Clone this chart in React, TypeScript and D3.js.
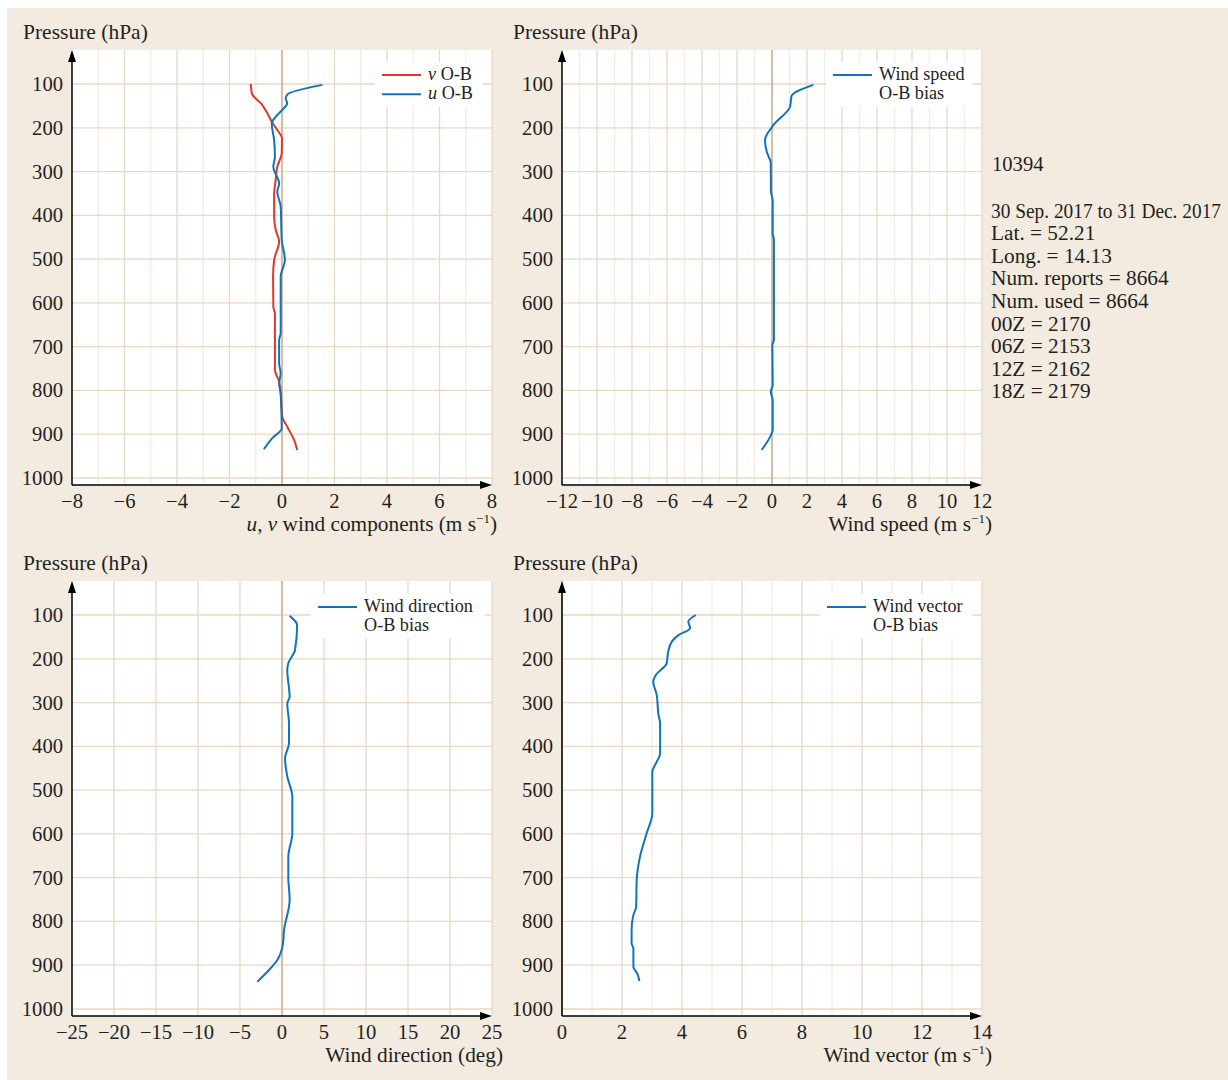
import React from 'react';
import * as d3 from 'd3';

// pressure levels (hPa) and O-B values
const vOB: [number, number][] = [
  [100, -1.19], [121, -1.15], [148, -0.75], [167, -0.56], [186, -0.39], [205, -0.18],
  [224, 0.0], [258, -0.01], [289, -0.18], [319, -0.24], [350, -0.3], [403, -0.3],
  [433, -0.24], [460, -0.11], [502, -0.3], [540, -0.34], [609, -0.33], [624, -0.27],
  [753, -0.27], [780, -0.11], [806, -0.05], [860, 0.01], [883, 0.2], [913, 0.46], [936, 0.58],
];
const uOB: [number, number][] = [
  [102, 1.54], [124, 0.2], [133, 0.14], [144, 0.2], [159, 0.01], [175, -0.24], [190, -0.39],
  [228, -0.3], [266, -0.27], [289, -0.33], [327, -0.11], [346, -0.18], [380, -0.05],
  [456, -0.01], [502, 0.11], [540, -0.05], [669, -0.05], [685, -0.11], [738, -0.11],
  [761, -0.05], [784, -0.11], [806, -0.05], [887, -0.01], [909, -0.37], [934, -0.69],
];
const speedOB: [number, number][] = [
  [102, 2.36], [127, 1.12], [152, 1.03], [194, 0.08], [228, -0.4], [255, -0.3], [281, -0.07],
  [346, -0.06], [365, 0.04], [441, 0.04], [456, 0.11], [685, 0.11], [696, 0.02], [788, 0.04],
  [803, -0.07], [822, 0.04], [890, 0.04], [909, -0.15], [936, -0.59],
];
const dirOB: [number, number][] = [
  [102, 0.91], [123, 1.8], [180, 1.55], [210, 0.75], [226, 0.63], [287, 0.91], [302, 0.63],
  [348, 0.83], [393, 0.83], [427, 0.36], [469, 0.63], [515, 1.23], [599, 1.23], [652, 0.75],
  [698, 0.75], [751, 0.91], [820, 0.24], [850, 0.12], [888, -0.56], [911, -1.55], [938, -2.94],
];
const vectorOB: [number, number][] = [
  [100, 4.46], [115, 4.21], [130, 4.27], [146, 3.88], [161, 3.66], [184, 3.54], [210, 3.49],
  [237, 3.13], [252, 3.04], [283, 3.16], [325, 3.21], [348, 3.27], [416, 3.27], [443, 3.1],
  [458, 3.01], [553, 3.01], [599, 2.82], [652, 2.6], [706, 2.49], [767, 2.47], [785, 2.38],
  [820, 2.32], [850, 2.32], [862, 2.38], [904, 2.38], [919, 2.51], [936, 2.58],
];

const pressureTicks = [100, 200, 300, 400, 500, 600, 700, 800, 900, 1000];
const stationId = '10394';
const stationInfo = [
  '30 Sep. 2017 to 31 Dec. 2017', 'Lat. = 52.21', 'Long. = 14.13', 'Num. reports = 8664',
  'Num. used = 8664', '00Z = 2170', '06Z = 2153', '12Z = 2162', '18Z = 2179',
];

const BLUE = '#0f74ba';
const RED = '#e2362c';
const MAJOR = '#e8d8c4';
const MINOR = '#f4ebe1';
const ZERO = '#c9a27f';
const INK = '#231f20';
const FONT = '"Liberation Serif", "Times New Roman", serif';

type Series = { data: [number, number][]; color: string; label: string[]; italic?: string };

function Panel(props: {
  left: number; top: number; domain: [number, number]; ticks: number[];
  grid: number[]; minorEvery?: number; series: Series[];
  legend: { x: number; y: number; w: number; h: number };
  title: React.ReactNode; titleX: number;
}) {
  const { left, top, domain, ticks, grid, series, legend } = props;
  const W = 420, H = 435;
  const x = d3.scaleLinear().domain(domain).range([left, left + W]);
  const y = d3.scaleLinear().domain([100, 1000]).range([top + 34, top + 428]);
  const bottom = top + H;
  const line = d3.line<[number, number]>()
    .x(d => x(d[1])).y(d => y(d[0]))
    .curve(d3.curveMonotoneY);
  const fmt = (v: number) => (v < 0 ? '\u2212' + Math.abs(v) : String(v));

  return (
    <g>
      <rect x={left} y={top} width={W} height={H} fill="#fff" />
      {grid.map(g => (
        <line key={'g' + g} x1={x(g)} x2={x(g)} y1={top} y2={bottom}
          stroke={props.minorEvery && Math.abs(g % props.minorEvery) === 1 ? MINOR : MAJOR}
          strokeWidth={1.3} />
      ))}
      {pressureTicks.map(p => (
        <line key={'h' + p} x1={left} x2={left + W} y1={y(p)} y2={y(p)} stroke={MAJOR} strokeWidth={1.3} />
      ))}
      <line x1={x(0)} x2={x(0)} y1={top} y2={bottom} stroke={ZERO} strokeWidth={1.2} />
      <rect x={legend.x} y={legend.y} width={legend.w} height={legend.h} fill="#fff" />
      {series.map((s, i) => (
        <path key={'s' + i} d={line(s.data) || ''} fill="none" stroke={s.color} strokeWidth={2} />
      ))}
      {series.map((s, i) => {
        const ly = legend.y + 13 + i * 19.3;
        return (
          <g key={'l' + i}>
            <line x1={legend.x + 7} x2={legend.x + 46} y1={ly} y2={ly} stroke={s.color} strokeWidth={2} />
            {s.label.map((t, j) => (
              <text key={j} x={legend.x + 53} y={ly + 5 + j * 18.8} fontSize={18.2} fill={INK}>
                {j === 0 && s.italic ? <tspan fontStyle="italic">{s.italic} </tspan> : null}
                {t}
              </text>
            ))}
          </g>
        );
      })}
      {/* axes */}
      <line x1={left} x2={left} y1={bottom} y2={top + 8} stroke="#000" strokeWidth={1.5} />
      <path d={`M${left},${top} L${left - 4},${top + 12} L${left + 4},${top + 12} Z`} fill="#000" />
      <line x1={left} x2={left + W - 8} y1={bottom} y2={bottom} stroke="#000" strokeWidth={1.5} />
      <path d={`M${left + W},${bottom} L${left + W - 12},${bottom - 4} L${left + W - 12},${bottom + 4} Z`} fill="#000" />
      {pressureTicks.map(p => (
        <text key={'yl' + p} x={left - 9} y={y(p) + 7} fontSize={20.6} textAnchor="end" fill={INK}>{p}</text>
      ))}
      {ticks.map(t => (
        <text key={'xl' + t} x={x(t)} y={bottom + 23} fontSize={20.6} textAnchor="middle" fill={INK}>{fmt(t)}</text>
      ))}
      <text x={left - 49} y={top - 11} fontSize={21.5} fill={INK}>Pressure (hPa)</text>
      <text x={props.titleX} y={bottom + 46} fontSize={21.3} textAnchor="end" fill={INK}>{props.title}</text>
    </g>
  );
}

const unit = (name: string) => (
  <>
    {name} (m s<tspan dy={-8} fontSize={13}>{'\u22121'}</tspan><tspan dy={8}>)</tspan>
  </>
);

export default function App() {
  return (
    <svg width={1228} height={1080}
      style={{ position: 'fixed', left: 0, top: 0, display: 'block', fontFamily: FONT }}>
      <rect x={7} y={8} width={1221} height={1072} fill="#f3ebe0" />
      <Panel left={72} top={50} domain={[-8, 8]} ticks={d3.range(-8, 9, 2)} grid={d3.range(-7, 9, 1)}
        minorEvery={2}
        series={[
          { data: vOB, color: RED, label: ['O-B'], italic: 'v' },
          { data: uOB, color: BLUE, label: ['O-B'], italic: 'u' },
        ]}
        legend={{ x: 375, y: 62, w: 108, h: 45 }}
        title={<><tspan fontStyle="italic">u</tspan>, <tspan fontStyle="italic">v</tspan>{unit(' wind components')}</>}
        titleX={497} />
      <Panel left={562} top={50} domain={[-12, 12]} ticks={d3.range(-12, 13, 2)} grid={d3.range(-11, 13, 1)}
        minorEvery={2}
        series={[{ data: speedOB, color: BLUE, label: ['Wind speed', 'O-B bias'] }]}
        legend={{ x: 826, y: 62, w: 146, h: 45 }}
        title={unit('Wind speed')} titleX={992} />
      <Panel left={72} top={581} domain={[-25, 25]} ticks={d3.range(-25, 26, 5)} grid={d3.range(-20, 26, 5)}
        series={[{ data: dirOB, color: BLUE, label: ['Wind direction', 'O-B bias'] }]}
        legend={{ x: 311, y: 594, w: 174, h: 44 }}
        title="Wind direction (deg)" titleX={503} />
      <Panel left={562} top={581} domain={[0, 14]} ticks={d3.range(0, 15, 2)} grid={d3.range(1, 15, 1)}
        minorEvery={2}
        series={[{ data: vectorOB, color: BLUE, label: ['Wind vector', 'O-B bias'] }]}
        legend={{ x: 820, y: 594, w: 152, h: 44 }}
        title={unit('Wind vector')} titleX={992} />
      <text x={992} y={171} fontSize={20.6} fill={INK}>{stationId}</text>
      {stationInfo.map((t, i) => (
        <text key={i} x={991} y={217.5 + i * 22.6} fontSize={i === 0 ? 20 : 21.3} fill={INK}
          textLength={i === 0 ? 230 : undefined} lengthAdjust="spacingAndGlyphs">{t}</text>
      ))}
    </svg>
  );
}
